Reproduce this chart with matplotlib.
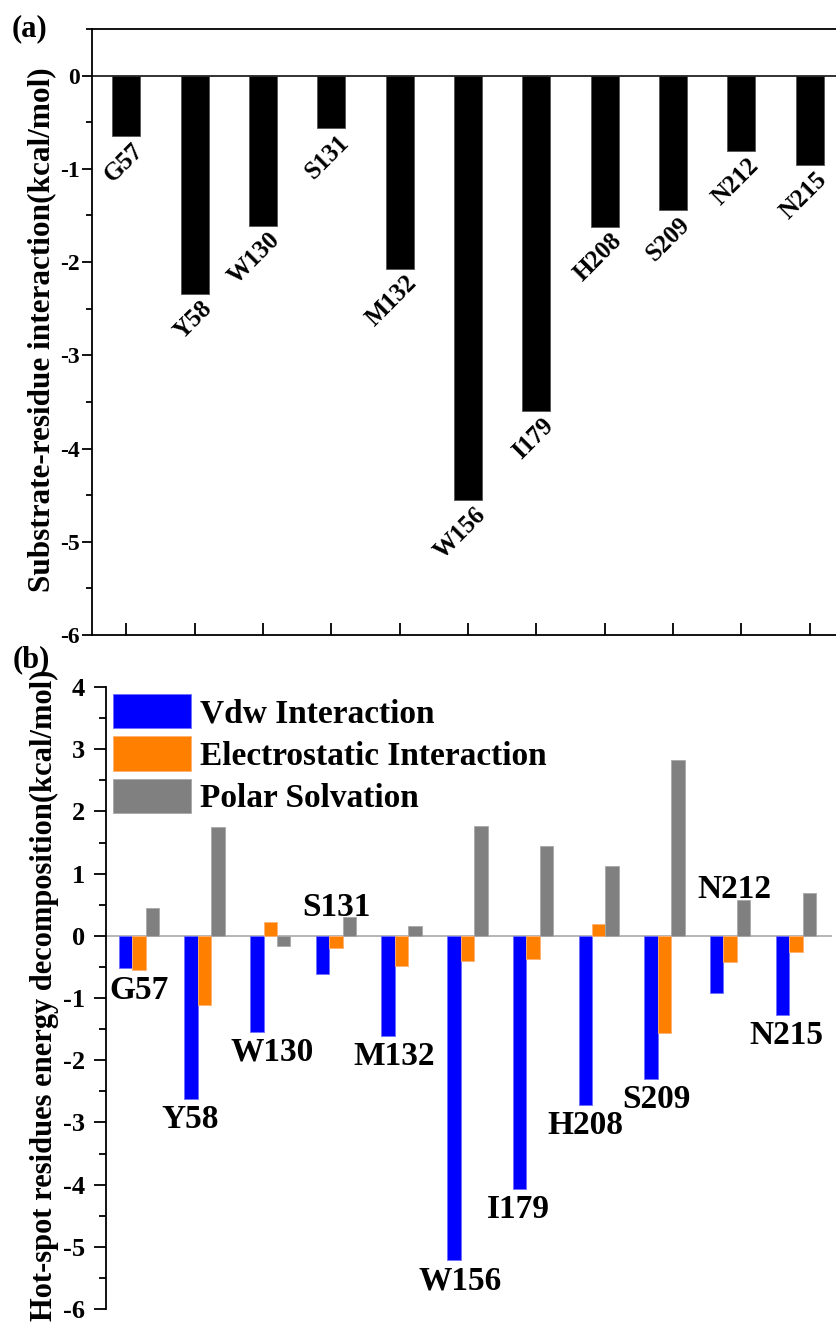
import numpy as np
import matplotlib
matplotlib.use("Agg")
from matplotlib import pyplot as plt
from matplotlib.ticker import MultipleLocator

plt.rcParams['font.family'] = ['Liberation Serif', 'DejaVu Serif']
plt.rcParams['font.weight'] = 'bold'
plt.rcParams['axes.unicode_minus'] = False

residues = ['G57', 'Y58', 'W130', 'S131', 'M132', 'W156',
            'I179', 'H208', 'S209', 'N212', 'N215']

# (a) substrate-residue interaction, kcal/mol
interaction = [-0.65, -2.34, -1.61, -0.56, -2.07, -4.55,
               -3.60, -1.62, -1.44, -0.81, -0.96]

# (b) hot-spot residue energy decomposition, kcal/mol
vdw = [-0.52, -2.62, -1.54, -0.62, -1.61, -5.22,
       -4.07, -2.72, -2.30, -0.92, -1.27]
electrostatic = [-0.55, -1.11, 0.22, -0.20, -0.48, -0.40,
                 -0.37, 0.19, -1.56, -0.42, -0.26]
polar_solv = [0.44, 1.75, -0.16, 0.30, 0.16, 1.76,
              1.44, 1.13, 2.83, 0.58, 0.69]
series_names = ['Vdw Interaction', 'Electrostatic Interaction', 'Polar Solvation']

# label layout for panel (b): which labels sit above the bars, small x nudges
label_above = [False, False, False, True, False, False,
               False, False, False, True, False]
label_dx = [0.0, -0.22, 0.03, 0.0, -0.12, -0.11,
            -0.23, -0.2, -0.12, 0.06, -0.14]

W, H = 836, 1322
fig = plt.figure(figsize=(W / 100, H / 100), dpi=100)

x = np.arange(len(residues))

# ---------------- panel (a) ----------------
ax1 = fig.add_axes([92 / W, 1 - 635 / H, 752 / W, 606 / H])
ax1.bar(x, interaction, width=0.41, color='black', edgecolor='#555555', linewidth=0.6)
ax1.axhline(0, color='#222222', lw=1.3)
ax1.set_xlim(-0.5, 10.5)
ax1.set_ylim(-6, 0.5)
ax1.yaxis.set_major_locator(MultipleLocator(1))
ax1.yaxis.set_minor_locator(MultipleLocator(0.5))
ax1.set_xticks(x)
ax1.set_xticklabels([])
ax1.tick_params(axis='x', direction='in', length=9, width=1.3)
ax1.tick_params(axis='y', which='major', direction='out', length=7, width=1.3,
                labelsize=17, pad=1.5)
ax1.tick_params(axis='y', which='minor', direction='out', length=4, width=1.3)
for s in ax1.spines.values():
    s.set_linewidth(1.3)
for xi, v, name in zip(x, interaction, residues):
    ax1.text(xi + 0.32, v - 0.03, name, rotation=45, ha='right', va='top',
             fontsize=18, fontweight='bold')

fig.text(42 / W, 1 - 330 / H, 'Substrate-residue interaction(kcal/mol)',
         rotation=90, ha='center', va='center', fontsize=22.5, fontweight='bold')
fig.text(12 / W, 1 - 14 / H, '(a)', ha='left', va='top', fontsize=22, fontweight='bold')

# ---------------- panel (b) ----------------
ax2 = fig.add_axes([106 / W, 1 - 1309 / H, 726 / W, 622 / H])
bw = 0.205
colors = ['#0000FF', '#FF8000', '#808080']
edges = ['#6f6fff', '#ffb070', '#a8a8a8']
for k, (vals, c, ec, nm) in enumerate(zip([vdw, electrostatic, polar_solv],
                                           colors, edges, series_names)):
    ax2.bar(x + (k - 1) * bw, vals, width=bw, color=c, edgecolor=ec,
            linewidth=0.6, label=nm)
ax2.axhline(0, color='#b0b0b0', lw=1.3, zorder=0.5)
ax2.set_xlim(-0.5, 10.55)
ax2.set_ylim(-6, 4)
ax2.yaxis.set_major_locator(MultipleLocator(1))
ax2.yaxis.set_minor_locator(MultipleLocator(0.5))
ax2.set_xticks([])
for side in ['top', 'right', 'bottom']:
    ax2.spines[side].set_visible(False)
ax2.spines['left'].set_linewidth(1.3)
ax2.tick_params(axis='y', which='major', direction='out', length=9, width=1.3,
                labelsize=19, pad=6)
ax2.tick_params(axis='y', which='minor', direction='out', length=5, width=1.3)

for i, name in enumerate(residues):
    grp = [vdw[i], electrostatic[i], polar_solv[i]]
    if label_above[i]:
        ax2.text(x[i] + label_dx[i], max(grp) + 0.02, name, ha='center',
                 va='baseline', fontsize=24, fontweight='bold')
    else:
        ax2.text(x[i] + label_dx[i], min(grp) - 0.08, name, ha='center',
                 va='top', fontsize=24, fontweight='bold')

ax2.legend(loc='upper left', frameon=False, handlelength=2.35,
           handleheight=1.2, labelspacing=0.22, handletextpad=0.28,
           borderaxespad=0.1, borderpad=0.1,
           prop={'family': ['Liberation Serif'], 'weight': 'bold', 'size': 24})

fig.text(44 / W, 1 - 995 / H, 'Hot-spot residues energy decomposition(kcal/mol)',
         rotation=90, ha='center', va='center', fontsize=22, fontweight='bold')
fig.text(13 / W, 1 - 645 / H, '(b)', ha='left', va='top', fontsize=22, fontweight='bold')

fig.savefig('out.png', dpi=100)
